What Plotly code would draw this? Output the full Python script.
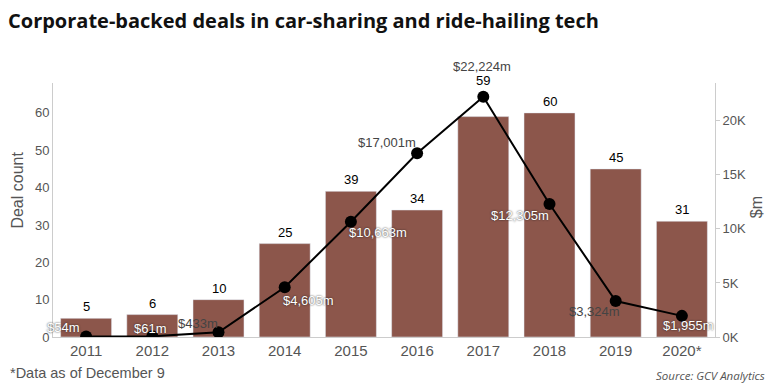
import plotly.graph_objects as go

years = ["2011", "2012", "2013", "2014", "2015", "2016", "2017", "2018", "2019", "2020*"]
deal_count = [5, 6, 10, 25, 39, 34, 59, 60, 45, 31]
deal_value_m = [54, 61, 433, 4605, 10663, 17001, 22224, 12305, 3324, 1955]
value_labels = ["$54m", "$61m", "$433m", "$4,605m", "$10,663m", "$17,001m",
                "$22,224m", "$12,305m", "$3,324m", "$1,955m"]
right_tickvals = [0, 5000, 10000, 15000, 20000]
right_ticktext = ["0K", "5K", "10K", "15K", "20K"]

# label placement (styling)
count_yshift = [0, 0, 0, 0, 0, 0, 25, 0, 0, 0]
val_xshift = [-23, -2, -21, 24, 27, -30, -1, -30, -21, 7]
val_yshift = [9, 8, 9, -13, -11, 11, 30, -11, -10, -10]
val_color = ["white", "white", "#444", "white", "white", "#444", "#444", "white", "#444", "white"]

BROWN = "#8c564b"
GRAY = "#555555"
FONT = "Liberation Sans, Arial"

xpos = list(range(len(years)))  # category slots

fig = go.Figure()
fig.add_trace(go.Bar(x=xpos, y=deal_count, marker_color=BROWN, yaxis="y",
                     hoverinfo="skip", showlegend=False))
fig.add_trace(go.Scatter(x=xpos, y=deal_value_m, yaxis="y2", mode="lines+markers",
                         line=dict(color="black", width=2),
                         marker=dict(color="black", size=12),
                         showlegend=False))

annotations = []
for xp, c, ys in zip(xpos, deal_count, count_yshift):
    annotations.append(dict(x=xp, y=c, xref="x", yref="y", text=str(c),
                            showarrow=False, yanchor="bottom", yshift=2 + ys,
                            font=dict(family=FONT, size=13, color="black")))
for xp, v, lab, xs, ys, col in zip(xpos, deal_value_m, value_labels, val_xshift, val_yshift, val_color):
    f = dict(family=FONT, size=13, color=col)
    if col == "white":
        f["shadow"] = "0px 0px 2px #222"
    annotations.append(dict(x=xp, y=v, xref="x", yref="y2", text=lab,
                            showarrow=False, xanchor="center", yanchor="middle",
                            xshift=xs, yshift=ys, font=f))
annotations += [
    dict(x=-0.053, y=0.58, xref="paper", yref="paper", text="Deal count",
         showarrow=False, textangle=-90, xanchor="center", yanchor="middle",
         font=dict(family=FONT, size=16, color=GRAY)),
    dict(x=1.063, y=0.51, xref="paper", yref="paper", text="$m",
         showarrow=False, textangle=-90, xanchor="center", yanchor="middle",
         font=dict(family=FONT, size=16, color=GRAY)),
    dict(x=-0.068, y=-0.142, xref="paper", yref="paper",
         text="*Data as of December 9", showarrow=False,
         xanchor="left", yanchor="middle",
         font=dict(family=FONT, size=14.5, color=GRAY)),
    dict(x=1.0785, y=-0.15, xref="paper", yref="paper",
         text="<i>Source: GCV Analytics</i>", showarrow=False,
         xanchor="right", yanchor="middle",
         font=dict(family="Open Sans", size=11.5, color=GRAY)),
]

fig.update_layout(
    width=767, height=383,
    margin=dict(l=45, r=60, t=75, b=54),
    paper_bgcolor="white", plot_bgcolor="white",
    bargap=0.23,
    title=dict(text="<b>Corporate-backed deals in car-sharing and ride-hailing tech</b>",
               x=0.0, xanchor="left", y=0.966, yanchor="middle",
               font=dict(family="Open Sans", size=20, color="#111111")),
    xaxis=dict(range=[-0.5, len(years) - 0.5], tickvals=xpos, ticktext=years,
               automargin=False,
               showgrid=False, zeroline=False, showline=True, linecolor="#cccccc", ticks="",
               tickfont=dict(family=FONT, size=15, color=GRAY)),
    yaxis=dict(range=[0, 68], dtick=10, showgrid=False, zeroline=False,
               automargin=False, showline=True, linecolor="#cccccc",
               tickfont=dict(family=FONT, size=13, color=GRAY)),
    yaxis2=dict(range=[0, 23500], overlaying="y", side="right", showgrid=False,
                automargin=False, zeroline=False, showline=True, linecolor="#cccccc",
                ticks="outside", ticklen=4, tickcolor="#cccccc",
                tickvals=right_tickvals, ticktext=right_ticktext,
                tickfont=dict(family=FONT, size=13, color=GRAY)),
    annotations=annotations,
)

fig.write_html("out.html")
